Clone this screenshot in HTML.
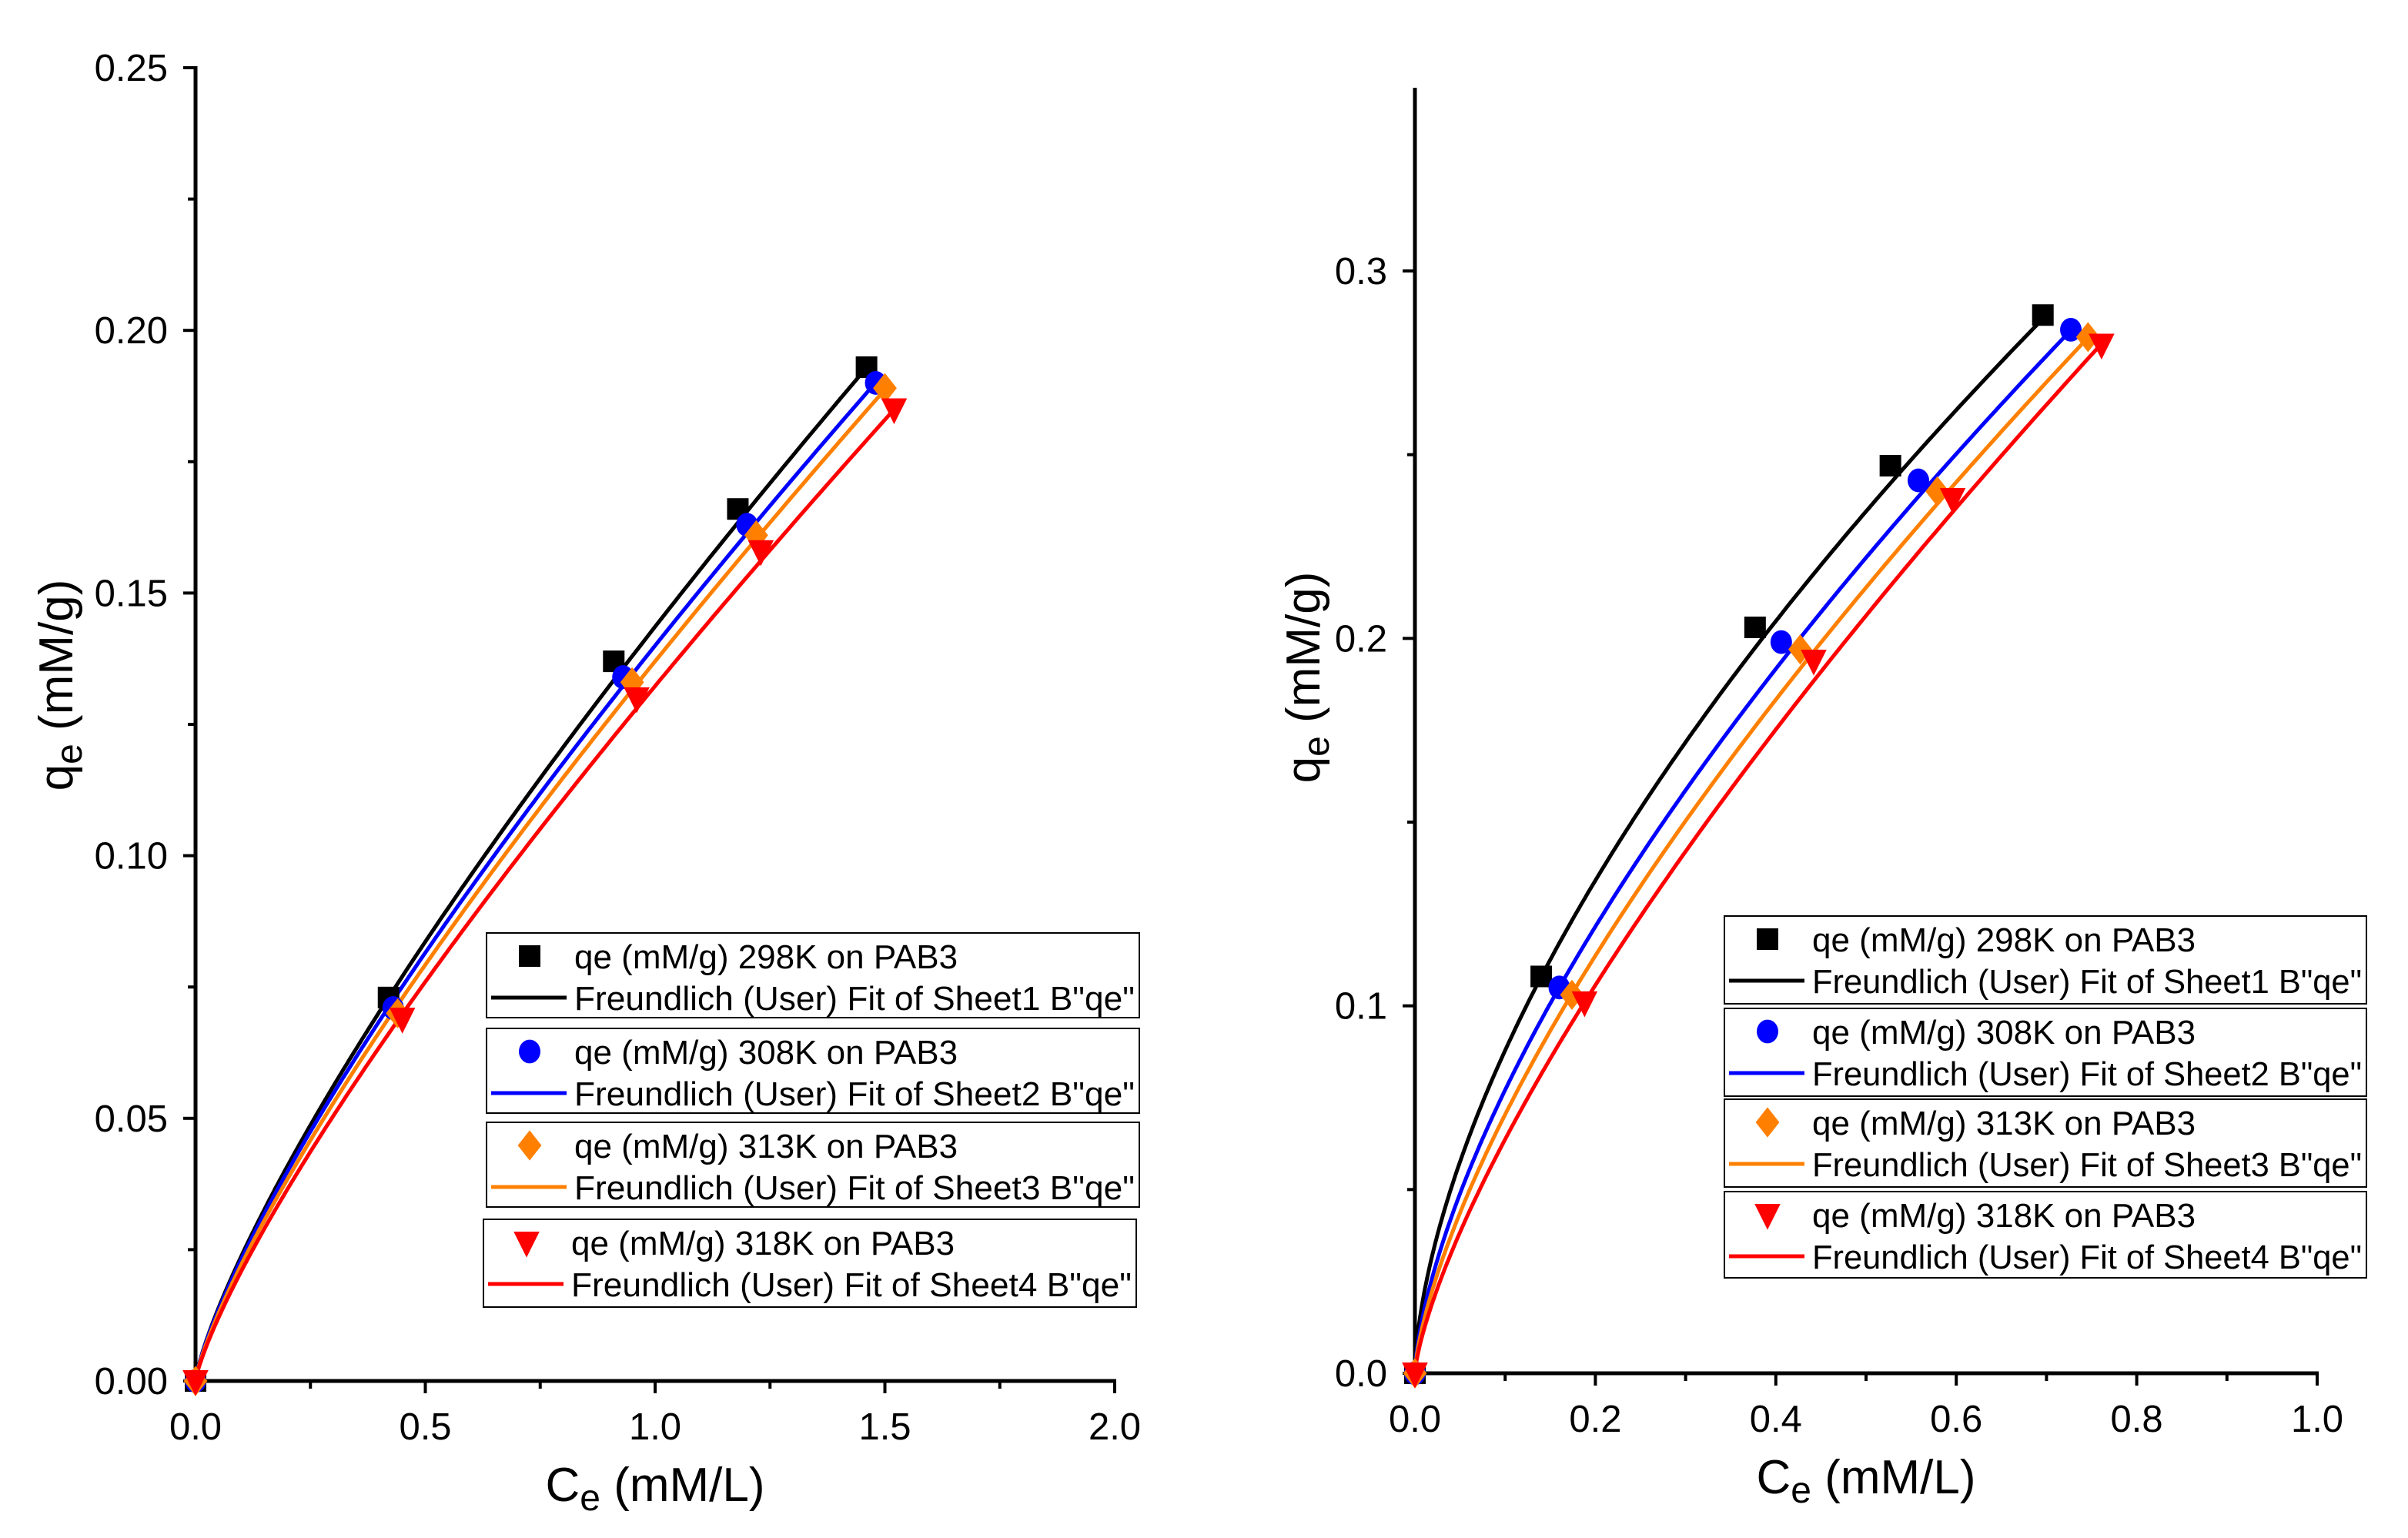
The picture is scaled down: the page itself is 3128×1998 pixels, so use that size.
<!DOCTYPE html>
<html><head><meta charset="utf-8"><style>
html,body{margin:0;padding:0;background:#fff}
svg{display:block}
text{font-family:"Liberation Sans",Arial,sans-serif}
</style></head><body>
<svg id="svg" xmlns="http://www.w3.org/2000/svg" width="3128" height="1998" viewBox="0 0 3128 1998"></svg>
<script>
// ---- Left chart data ----
const leftX298=[0,0.42,0.91,1.18,1.46], leftY298=[0,0.073,0.137,0.166,0.193];
const leftX308=[0,0.43,0.93,1.20,1.48], leftY308=[0,0.071,0.134,0.163,0.190];
const leftX313=[0,0.44,0.95,1.22,1.50], leftY313=[0,0.070,0.133,0.161,0.189];
const leftX318=[0,0.45,0.96,1.23,1.52], leftY318=[0,0.069,0.130,0.158,0.185];
const leftFitK=[0.1436,0.140,0.137,0.1323];
const leftFitN=[0.78,0.78,0.79,0.80];
const leftXTicks=["0.0","0.5","1.0","1.5","2.0"];
const leftYTicks=["0.00","0.05","0.10","0.15","0.20","0.25"];
// ---- Right chart data ----
const rightX298=[0,0.14,0.377,0.527,0.696], rightY298=[0,0.108,0.203,0.247,0.288];
const rightX308=[0,0.16,0.406,0.558,0.727], rightY308=[0,0.105,0.199,0.243,0.284];
const rightX313=[0,0.174,0.427,0.579,0.746], rightY313=[0,0.103,0.197,0.240,0.282];
const rightX318=[0,0.188,0.442,0.596,0.761], rightY318=[0,0.101,0.194,0.238,0.280];
const rightFitK=[0.358,0.350,0.345,0.342];
const rightFitN=[0.61,0.657,0.69,0.73];
const rightXTicks=["0.0","0.2","0.4","0.6","0.8","1.0"];
const rightYTicks=["0.0","0.1","0.2","0.3"];
const temps=["298K","308K","313K","318K"];
const colors=["#000000","#0000ff","#ff8000","#ff0000"];
const NS="http://www.w3.org/2000/svg";
const svg=document.getElementById('svg');
function mk(tag,attrs,parent){const e=document.createElementNS(NS,tag);for(const k in attrs)e.setAttribute(k,attrs[k]);(parent||svg).appendChild(e);return e;}
function marker(i,cx,cy,g){
  const s=14;let e;
  if(i===0)e=mk('rect',{x:cx-s,y:cy-s,width:2*s,height:2*s,fill:colors[i]},g);
  else if(i===1)e=mk('ellipse',{cx:cx,cy:cy,rx:s,ry:s*1.1,fill:colors[i]},g);
  else if(i===2)e=mk('polygon',{points:`${cx},${cy-s*1.4} ${cx+s*1.1},${cy} ${cx},${cy+s*1.4} ${cx-s*1.1},${cy}`,fill:colors[i]},g);
  else e=mk('polygon',{points:`${cx-s*1.2},${cy-s} ${cx+s*1.2},${cy-s} ${cx},${cy+s*1.4}`,fill:colors[i]},g);
  return e;
}
function chart(cfg){
  const g=mk('g',{});
  
  
  const sx=v=>cfg.x0+(v-cfg.xmin)/(cfg.xmax-cfg.xmin)*(cfg.x1-cfg.x0);
  const sy=v=>cfg.y0-(v-cfg.ymin)/(cfg.ymax-cfg.ymin)*(cfg.y0-cfg.y1);
  const ax=mk('line',{x1:cfg.x0,y1:cfg.y0,x2:cfg.x1+2,y2:cfg.y0,stroke:'#000','stroke-width':5},g);
  
  const ay=mk('line',{x1:cfg.x0,y1:cfg.y0+2,x2:cfg.x0,y2:cfg.yTop,stroke:'#000','stroke-width':5},g);
  
  const nx=cfg.xTicks.length;
  for(let i=0;i<nx;i++){
    const v=parseFloat(cfg.xTicks[i]);const x=sx(v);
    mk('line',{x1:x,y1:cfg.y0,x2:x,y2:cfg.y0+16,stroke:'#000','stroke-width':4},g);
    const t=mk('text',{x:x,y:cfg.y0+76,'text-anchor':'middle','font-size':49},g);
    t.textContent=cfg.xTicks[i];
    
    if(i<nx-1){const xm=sx(v+cfg.xStep/2);mk('line',{x1:xm,y1:cfg.y0,x2:xm,y2:cfg.y0+10,stroke:'#000','stroke-width':4},g);}
  }
  const ny=cfg.yTicks.length;
  for(let i=0;i<ny;i++){
    const v=parseFloat(cfg.yTicks[i]);const y=sy(v);
    mk('line',{x1:cfg.x0,y1:y,x2:cfg.x0-16,y2:y,stroke:'#000','stroke-width':4},g);
    const t=mk('text',{x:cfg.x0-36,y:y+17,'text-anchor':'end','font-size':49},g);
    t.textContent=cfg.yTicks[i];
    
    const vm=v+cfg.yStep/2;
    if(vm<=cfg.ymax+1e-9){const ym=sy(vm);mk('line',{x1:cfg.x0,y1:ym,x2:cfg.x0-10,y2:ym,stroke:'#000','stroke-width':4},g);}
  }
  const xt=mk('text',{x:(cfg.x0+cfg.x1)/2,y:cfg.y0+156,'text-anchor':'middle','font-size':62},g);
  xt.innerHTML='C<tspan font-size="48" dy="12">e</tspan><tspan dy="-12"> (mM/L)</tspan>';
  
  const yt=mk('text',{x:0,y:0,'text-anchor':'middle','font-size':62,transform:`translate(${cfg.ytx},${cfg.yty}) rotate(-90)`},g);
  yt.innerHTML='q<tspan font-size="48" dy="12">e</tspan><tspan dy="-12"> (mM/g)</tspan>';
  
  for(let s=0;s<4;s++){
    const xs=cfg.xs[s];const xend=xs[xs.length-1];
    let d='';const N=200;
    for(let k=0;k<=N;k++){const c=xend*Math.pow(k/N,2);const q=cfg.K[s]*Math.pow(c,cfg.n[s]);d+=(k?'L':'M')+sx(c).toFixed(1)+','+sy(q).toFixed(1);}
    const p=mk('path',{d:d,fill:'none',stroke:colors[s],'stroke-width':5},g);
    
  }
  for(let s=0;s<4;s++){
    for(let k=0;k<cfg.xs[s].length;k++){
      const m=marker(s,sx(cfg.xs[s][k]),sy(cfg.ys[s][k]),g);
      
    }
  }
  for(let s=0;s<4;s++){
    const b=cfg.leg[s];
    const lg=mk('g',{},g);
    
    mk('rect',{x:b[0],y:b[1],width:b[2],height:b[3],fill:'#fff',stroke:'#000','stroke-width':2},lg);
    marker(s,b[0]+56,b[1]+30,lg);
    mk('line',{x1:b[0]+6,y1:b[1]+84,x2:b[0]+104,y2:b[1]+84,stroke:colors[s],'stroke-width':5},lg);
    const t1=mk('text',{x:b[0]+114,y:b[1]+46,'font-size':44},lg);t1.textContent='qe (mM/g) '+temps[s]+' on PAB3';
    const t2=mk('text',{x:b[0]+114,y:b[1]+100,'font-size':44,textLength:b[2]-120,lengthAdjust:'spacingAndGlyphs'},lg);t2.textContent='Freundlich (User) Fit of Sheet'+(s+1)+' B"qe"';
  }
}
chart({name:'left-chart',x0:254,x1:1448,y0:1794,y1:88,yTop:86,xmin:0,xmax:2,ymin:0,ymax:0.25,xStep:0.5,yStep:0.05,
  xTicks:leftXTicks,yTicks:leftYTicks,ytx:94,yty:890,
  xs:[leftX298,leftX308,leftX313,leftX318],ys:[leftY298,leftY308,leftY313,leftY318],K:leftFitK,n:leftFitN,
  leg:[[632,1212,848,110],[632,1336,848,110],[632,1458,848,110],[628,1584,848,114]]});
chart({name:'right-chart',x0:1838,x1:3010,y0:1784,y1:352,yTop:114,xmin:0,xmax:1,ymin:0,ymax:0.3,xStep:0.2,yStep:0.1,
  xTicks:rightXTicks,yTicks:rightYTicks,ytx:1714,yty:880,
  xs:[rightX298,rightX308,rightX313,rightX318],ys:[rightY298,rightY308,rightY313,rightY318],K:rightFitK,n:rightFitN,
  leg:[[2240,1190,834,114],[2240,1310,834,114],[2240,1428,834,114],[2240,1548,834,112]]});
</script>
</body></html>
